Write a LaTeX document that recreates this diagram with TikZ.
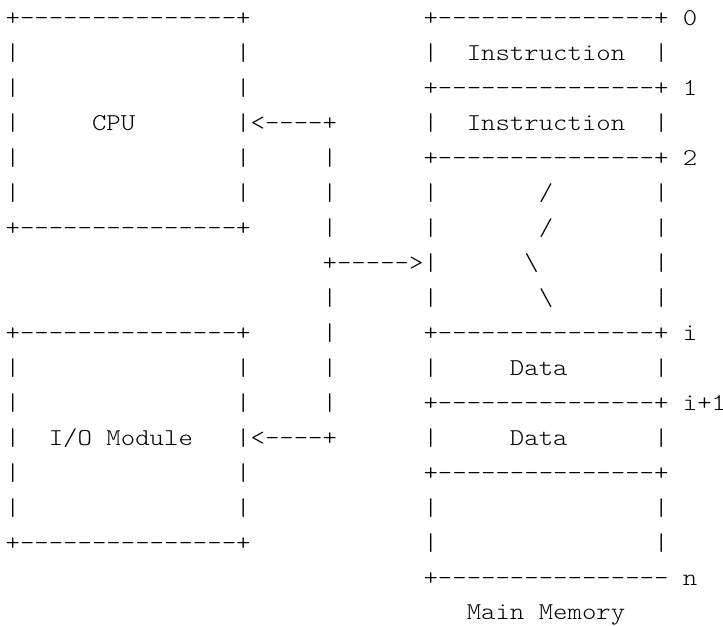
\documentclass[tikz,border=0pt]{standalone}
% One text row per node, set in a monospaced face on a fixed character grid.
\newcommand\gap[1]{\hspace*{#1\fontcharwd\font`\x}}
\newcommand\dashrun[1]{\foreach\k in {1,...,#1}{\mbox{-}}}
\tikzset{
  x=1pt, y=1pt,
  asciirow/.style={anchor=base west, inner sep=0pt, outer sep=0pt, text=black,
    yscale=0.88,
    font=\fontsize{27.45}{35}\fontseries{l}\ttfamily\selectfont},
}
\begin{document}
\begin{tikzpicture}
\path[fill=white] (0,0) rectangle (723,-625);
\useasboundingbox (0,0) rectangle (723,-625);
\node[asciirow] (row0)  at (5.6,-25)  {+\dashrun{15}+\gap{12}+\dashrun{15}+\gap{1}0};
\node[asciirow] (row1)  at (5.6,-60)  {|\gap{15}|\gap{12}|\gap{2}Instruction\gap{2}|};
\node[asciirow] (row2)  at (5.6,-95)  {|\gap{15}|\gap{12}+\dashrun{15}+\gap{1}1};
\node[asciirow] (row3)  at (5.6,-130) {|\gap{5}CPU\gap{7}|<\dashrun{4}+\gap{6}|\gap{2}Instruction\gap{2}|};
\node[asciirow] (row4)  at (5.6,-165) {|\gap{15}|\gap{5}|\gap{6}+\dashrun{15}+\gap{1}2};
\node[asciirow] (row5)  at (5.6,-200) {|\gap{15}|\gap{5}|\gap{6}|\gap{7}/\gap{7}|};
\node[asciirow] (row6)  at (5.6,-235) {+\dashrun{15}+\gap{5}|\gap{6}|\gap{7}/\gap{7}|};
\node[asciirow] (row7)  at (5.6,-270) {\gap{22}+\dashrun{5}>|\gap{6}\textbackslash\gap{8}|};
\node[asciirow] (row8)  at (5.6,-305) {\gap{22}|\gap{6}|\gap{7}\textbackslash\gap{7}|};
\node[asciirow] (row9)  at (5.6,-340) {+\dashrun{15}+\gap{5}|\gap{6}+\dashrun{15}+\gap{1}i};
\node[asciirow] (row10) at (5.6,-375) {|\gap{15}|\gap{5}|\gap{6}|\gap{5}Data\gap{6}|};
\node[asciirow] (row11) at (5.6,-410) {|\gap{15}|\gap{5}|\gap{6}+\dashrun{15}+\gap{1}i+1};
\node[asciirow] (row12) at (5.6,-445) {|\gap{2}I/O\gap{1}Module\gap{3}|<\dashrun{4}+\gap{6}|\gap{5}Data\gap{6}|};
\node[asciirow] (row13) at (5.6,-480) {|\gap{15}|\gap{12}+\dashrun{15}+};
\node[asciirow] (row14) at (5.6,-515) {|\gap{15}|\gap{12}|\gap{15}|};
\node[asciirow] (row15) at (5.6,-550) {+\dashrun{15}+\gap{12}|\gap{15}|};
\node[asciirow] (row16) at (5.6,-585) {\gap{29}+\dashrun{16}\gap{1}n};
\node[asciirow] (row17) at (5.6,-619.5) {\gap{32}Main\gap{1}Memory};
\end{tikzpicture}
\end{document}
